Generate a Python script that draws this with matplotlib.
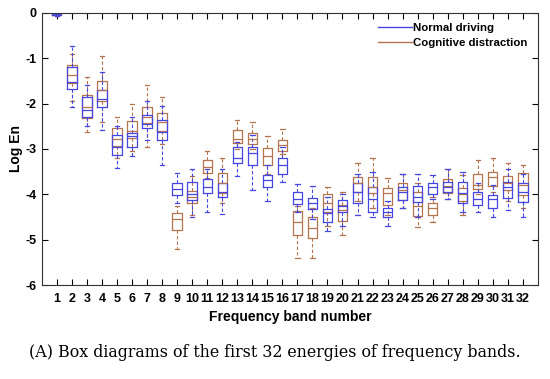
import numpy as np
import matplotlib.pyplot as plt

# 各周波数帯のボックス統計 (下ヒゲ, Q1, 中央値, Q3, 上ヒゲ)
bands = list(range(1, 33))

normal_lo = [-0.06, -2.07, -2.50, -2.58, -3.42, -3.15, -2.80, -3.35, -4.19, -4.50, -4.38, -4.43, -3.60, -3.90, -4.15, -3.73,
             -4.38, -4.55, -4.80, -4.70, -4.45, -4.50, -4.70, -4.30, -4.50, -4.10, -4.10, -4.40, -4.40, -4.50, -4.35, -4.50]
normal_q1 = [-0.04, -1.68, -2.30, -2.08, -3.13, -2.95, -2.54, -2.80, -4.02, -4.13, -3.98, -4.05, -3.31, -3.36, -3.83, -3.55,
             -4.21, -4.33, -4.60, -4.38, -4.20, -4.40, -4.50, -4.12, -4.18, -4.00, -3.95, -4.20, -4.24, -4.30, -4.08, -4.17]
normal_med = [-0.03, -1.52, -2.15, -1.90, -2.95, -2.72, -2.45, -2.62, -3.88, -4.00, -3.85, -3.95, -3.20, -3.10, -3.68, -3.35,
              -4.10, -4.20, -4.42, -4.25, -3.95, -4.10, -4.38, -3.95, -4.05, -3.85, -3.85, -3.97, -4.10, -4.10, -3.85, -3.95]
normal_q3 = [-0.02, -1.20, -1.85, -1.70, -2.70, -2.65, -2.25, -2.36, -3.75, -3.73, -3.67, -3.75, -2.96, -2.96, -3.57, -3.20,
             -3.94, -4.08, -4.33, -4.13, -3.76, -3.83, -4.30, -3.83, -3.82, -3.76, -3.72, -3.73, -3.95, -4.02, -3.72, -3.76]
normal_hi = [-0.01, -0.72, -1.60, -1.30, -2.50, -2.30, -1.95, -2.05, -3.53, -3.45, -3.45, -3.45, -2.85, -2.70, -3.35, -2.95,
             -3.78, -3.82, -4.05, -4.00, -3.55, -3.50, -4.15, -3.55, -3.55, -3.58, -3.45, -3.50, -3.75, -3.80, -3.45, -3.55]

cog_lo = [-0.06, -1.95, -2.62, -2.40, -3.20, -3.05, -2.95, -2.90, -5.20, -4.45, -3.65, -4.20, -3.00, -3.00, -3.55, -3.12,
          -5.40, -5.40, -4.70, -4.90, -4.15, -4.30, -4.45, -4.30, -4.72, -4.62, -4.10, -4.45, -4.00, -3.95, -4.15, -4.30]
cog_q1 = [-0.04, -1.55, -2.32, -1.95, -2.93, -2.76, -2.43, -2.60, -4.79, -4.20, -3.52, -3.97, -2.87, -2.89, -3.36, -3.05,
          -4.90, -4.96, -4.38, -4.58, -3.94, -3.98, -4.23, -4.13, -4.48, -4.46, -3.97, -4.15, -3.89, -3.82, -3.90, -4.02]
cog_med = [-0.03, -1.38, -2.07, -1.70, -2.78, -2.60, -2.30, -2.40, -4.55, -4.07, -3.40, -3.75, -2.78, -2.78, -3.15, -2.92,
           -4.60, -4.75, -4.20, -4.35, -3.75, -3.85, -3.97, -3.90, -4.25, -4.30, -3.82, -4.00, -3.80, -3.62, -3.75, -3.80]
cog_q3 = [-0.02, -1.15, -1.81, -1.50, -2.54, -2.38, -2.07, -2.20, -4.42, -3.93, -3.25, -3.53, -2.58, -2.64, -2.98, -2.80,
          -4.37, -4.50, -4.00, -4.24, -3.61, -3.61, -3.87, -3.76, -3.95, -4.20, -3.67, -3.87, -3.55, -3.50, -3.60, -3.53]
cog_hi = [-0.01, -0.90, -1.42, -0.95, -2.30, -2.00, -1.60, -1.85, -4.25, -3.60, -3.05, -3.20, -2.36, -2.40, -2.72, -2.55,
          -4.25, -4.30, -3.85, -3.95, -3.30, -3.20, -3.65, -3.55, -3.75, -4.05, -3.45, -3.58, -3.25, -3.20, -3.30, -3.35]

blue = '#4646e0'
brown = '#b6744e'


def make_stats(lo, q1, med, q3, hi):
    return [dict(whislo=a, q1=b, med=c, q3=d, whishi=e) for a, b, c, d, e in zip(lo, q1, med, q3, hi)]


def draw(ax, stats, col):
    ax.bxp(stats, positions=bands, widths=0.62, showfliers=False, manage_ticks=False,
           boxprops=dict(color=col, lw=0.9),
           medianprops=dict(color=col, lw=0.9),
           whiskerprops=dict(color=col, lw=0.8, ls=(0, (3, 2))),
           capprops=dict(color=col, lw=0.9), capwidths=0.3)


plt.rcParams['font.family'] = ['Liberation Sans', 'DejaVu Sans']
fig = plt.figure(figsize=(5.5, 3.79), dpi=100)
ax = fig.add_axes([0.076, 0.248, 0.902, 0.718])

draw(ax, make_stats(cog_lo, cog_q1, cog_med, cog_q3, cog_hi), brown)
draw(ax, make_stats(normal_lo, normal_q1, normal_med, normal_q3, normal_hi), blue)

ax.set_xlim(0, 33)
ax.set_ylim(-6, 0)
ax.set_xticks(bands)
ax.set_xticklabels([str(b) for b in bands], fontweight='bold', fontsize=9)
ax.set_yticks([-6, -5, -4, -3, -2, -1, 0])
ax.set_yticklabels(['-6', '-5', '-4', '-3', '-2', '-1', '0'], fontweight='bold', fontsize=9)
ax.tick_params(axis='x', pad=6)
ax.tick_params(direction='in', top=True, right=True, length=4, width=0.8)
for s in ax.spines.values():
    s.set_linewidth(0.8)
    s.set_color('#333333')
ax.set_xlabel('Frequency band number', fontweight='bold', fontsize=10, labelpad=3)
ax.set_ylabel('Log En', fontweight='bold', fontsize=10, labelpad=2)

ax.plot([], [], color=blue, lw=1, label='Normal driving')
ax.plot([], [], color=brown, lw=1, label='Cognitive distraction')
ax.legend(loc='upper right', frameon=False, handlelength=3.0, handletextpad=0.1,
          borderaxespad=0.5, labelspacing=0.45, prop=dict(weight='bold', size=8.2))

fig.text(0.5, 0.071, '(A) Box diagrams of the first 32 energies of frequency bands.',
         ha='center', va='center', fontsize=11.4, family='DejaVu Serif')

fig.savefig('out.png', dpi=100)
